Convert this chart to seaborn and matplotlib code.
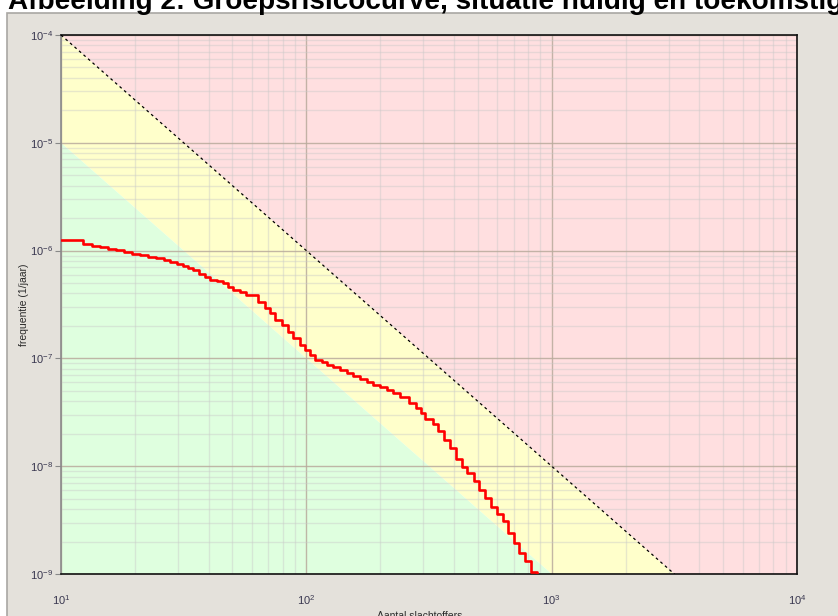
import matplotlib
matplotlib.use("Agg")
import matplotlib.pyplot as plt
from matplotlib.patches import Rectangle
from matplotlib.ticker import NullFormatter, LogLocator
import numpy as np
import pandas as pd
import seaborn as sns

# Groepsrisico (FN-curve): aantal slachtoffers N en cumulatieve frequentie F (1/jaar)
slachtoffers = [10, 12.3, 13.4, 14.4, 15.6, 16.8, 18.1, 19.5, 21.0, 22.6, 24.4, 26.3,
                27.9, 29.7, 31.5, 33.0, 34.6, 36.6, 38.7, 40.6, 43.3, 45.8, 48.0, 50.4,
                53.8, 56.9, 63.7, 68.0, 71.3, 74.7, 79.8, 84.4, 88.5, 94.5, 99.1, 103.8,
                108.8, 116.2, 121.8, 128.9, 137.6, 147.0, 155.5, 166.1, 177.4, 187.7,
                200.5, 214.1, 226.5, 241.9, 260.9, 278.6, 292.0, 305.9, 326.8, 342.5,
                362.4, 383.4, 405.7, 429.2, 449.9, 480.4, 503.5, 532.8, 563.6, 596.4,
                631.0, 661.4, 699.8, 733.4, 776.0, 821.0, 868.7]
frequentie = [1.254e-6, 1.151e-6, 1.103e-6, 1.080e-6, 1.035e-6, 1.013e-6, 9.70e-7,
              9.30e-7, 9.10e-7, 8.72e-7, 8.54e-7, 8.18e-7, 7.84e-7, 7.51e-7, 7.20e-7,
              6.90e-7, 6.61e-7, 6.07e-7, 5.69e-7, 5.34e-7, 5.22e-7, 5.00e-7, 4.60e-7,
              4.31e-7, 4.13e-7, 3.87e-7, 3.34e-7, 2.93e-7, 2.64e-7, 2.27e-7, 2.04e-7,
              1.76e-7, 1.55e-7, 1.33e-7, 1.20e-7, 1.075e-7, 9.66e-8, 9.26e-8, 8.69e-8,
              8.32e-8, 7.81e-8, 7.32e-8, 6.87e-8, 6.44e-8, 6.04e-8, 5.66e-8, 5.43e-8,
              5.09e-8, 4.78e-8, 4.38e-8, 3.86e-8, 3.47e-8, 3.11e-8, 2.74e-8, 2.46e-8,
              2.12e-8, 1.75e-8, 1.475e-8, 1.166e-8, 9.83e-9, 8.65e-9, 7.29e-9, 6.01e-9,
              5.07e-9, 4.18e-9, 3.60e-9, 3.10e-9, 2.40e-9, 1.94e-9, 1.566e-9, 1.32e-9,
              1.04e-9, 9.58e-10]

# Oriëntatiewaarde F = C / N^2 en de zone een factor 10 lager
orientatie_C = 1e-2
factor_onder = 0.1
x_bereik = [10, 1e4]
y_bereik = [1e-9, 1e-4]

titel = "Afbeelding 2: Groepsrisicocurve, situatie huidig en toekomstig"
x_label = "Aantal slachtoffers"
y_label = "frequentie (1/jaar)"

sns.set_style("white")
plt.rcParams["font.family"] = ["Liberation Sans", "DejaVu Sans"]

fig = plt.figure(figsize=(8.38, 6.16), dpi=100)
fig.patch.set_facecolor("white")

# grey panel behind the chart
panel = Rectangle((7 / 838, -0.01), 1.0, 1 - 13 / 616 + 0.01,
                  transform=fig.transFigure, facecolor="#e4e1db",
                  edgecolor="#a9a7a3", linewidth=1.2, zorder=-5)
fig.patches.append(panel)

fig.text(8 / 838, 1 - 9 / 616, titel, fontsize=20.1, fontweight="bold",
         ha="left", va="baseline", color="black")

ax = fig.add_axes([61 / 838, 1 - 574 / 616, (797 - 61) / 838, (574 - 35) / 616])
ax.set_zorder(1)
ax.set_xscale("log")
ax.set_yscale("log")
ax.set_xlim(*x_bereik)
ax.set_ylim(*y_bereik)

# coloured risk zones
n_grid = np.logspace(np.log10(x_bereik[0]), np.log10(x_bereik[1]), 400)
norm = orientatie_C / n_grid ** 2
ax.fill_between(n_grid, norm, y_bereik[1], color="#ffdfe0", lw=0, zorder=0.1)
ax.fill_between(n_grid, factor_onder * norm, norm, color="#ffffcb", lw=0, zorder=0.1)
ax.fill_between(n_grid, y_bereik[0] / 10, factor_onder * norm, color="#dfffdf", lw=0, zorder=0.1)

# grid
ax.xaxis.set_minor_locator(LogLocator(base=10, subs=np.arange(2, 10)))
ax.yaxis.set_minor_locator(LogLocator(base=10, subs=np.arange(2, 10)))
ax.grid(which="major", color="#b9ab9c", linewidth=1.0, alpha=0.85)
ax.grid(which="minor", color="#c8c8c8", linewidth=1.0, alpha=0.42)
ax.set_axisbelow(True)

# oriëntatiewaarde
ax.plot(n_grid, norm, color="black", linewidth=0.9, linestyle=(0, (2.2, 2.6)), zorder=3)

# FN-curve
df = pd.DataFrame({"N": slachtoffers, "F": frequentie})
sns.lineplot(data=df, x="N", y="F", ax=ax, color="#ff0000", linewidth=1.9,
             drawstyle="steps-post", estimator=None, sort=False, zorder=4)

ax.xaxis.set_minor_formatter(NullFormatter())
ax.yaxis.set_minor_formatter(NullFormatter())
ax.tick_params(axis="x", which="major", length=0, pad=14, labelsize=8, labelcolor="#3a3850")
ax.tick_params(axis="y", which="major", length=4, width=0.8, color="#888888",
               pad=2, labelsize=8, labelcolor="#3a3850", left=True)
ax.tick_params(which="minor", length=0)

ax.set_xlabel(x_label, fontsize=7.5, color="#2a2a2a", labelpad=1)
ax.xaxis.set_label_coords(0.487, -0.068)
ax.set_ylabel(y_label, fontsize=7.5, color="#2a2a2a")
ax.yaxis.set_label_coords(-0.043, 0.5)

for side in ["top", "right", "bottom"]:
    ax.spines[side].set_color("#111111")
    ax.spines[side].set_linewidth(1.2)
ax.spines["left"].set_color("#8a8a8a")
ax.spines["left"].set_linewidth(1.2)

fig.savefig("out.png", dpi=100, facecolor=fig.get_facecolor())
